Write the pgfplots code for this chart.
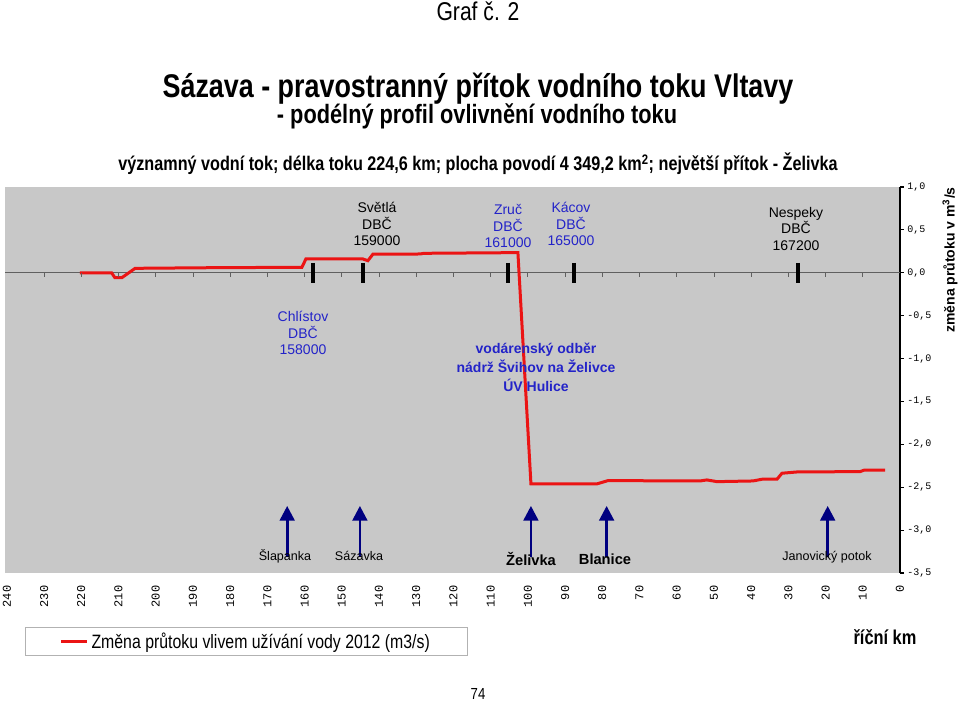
\documentclass[border=0pt]{standalone}
\usepackage{fontspec}
\setmainfont{Liberation Sans}
\newfontfamily\narrow[FakeStretch=0.82]{Liberation Sans}
\newfontfamily\mono{Liberation Mono}
\usepackage{pgfplots}
\pgfplotsset{compat=1.18}
\usetikzlibrary{arrows.meta}
\definecolor{bggray}{RGB}{200,200,200}
\definecolor{lblue}{RGB}{35,35,200}
\definecolor{navyc}{RGB}{0,0,128}
\definecolor{lred}{RGB}{235,20,20}
\begin{document}
\begin{tikzpicture}
\begin{axis}[
  scale only axis, width=671.25pt, height=289.5pt,
  x dir=reverse, xmin=0, xmax=240.5, ymin=-3.5, ymax=1,
  axis x line*=bottom, axis y line*=right,
  x axis line style={draw=none},
  xtick={0,10,...,240},
  major x tick style={draw=none},
  /pgf/number format/assume math mode=true,
  x tick label style={rotate=90, anchor=east, font=\mono\fontsize{9}{9}\selectfont},
  xticklabel shift=3pt,
  ytick={-3.5,-3,-2.5,-2,-1.5,-1,-0.5,0,0.5,1},
  yticklabels={{-3,5},{-3,0},{-2,5},{-2,0},{-1,5},{-1,0},{-0,5},{0,0},{0,5},{1,0}},
  y tick label style={anchor=west, font=\mono\fontsize{7.5}{8}\selectfont},
  yticklabel shift=-1pt,
  tick align=outside, major tick length=3pt,
  y axis line style={black, line width=0.8pt},
  major y tick style={black, line width=0.8pt},
  axis background/.style={fill=bggray},
  legend style={at={(0.0223,-0.1399)}, anchor=north west, draw=gray!60, inner xsep=26pt, inner ysep=2pt,
    font=\narrow\fontsize{14.5}{14.5}\selectfont, legend cell align=left},
  legend image code/.code={\draw[#1] (0pt,0pt) -- (19.5pt,0pt);},
]
% zero line
\addplot[forget plot, gray!75!black, line width=0.7pt] coordinates {(0,0) (240.5,0)};
\addplot[forget plot, only marks, mark=|, mark size=1.5pt, mark options={gray!75!black, line width=0.6pt}]
  coordinates {(10,-0.023) (20,-0.023) (30,-0.023) (40,-0.023) (50,-0.023) (60,-0.023) (70,-0.023) (80,-0.023)
  (90,-0.023) (100,-0.023) (110,-0.023) (120,-0.023) (130,-0.023) (140,-0.023) (150,-0.023) (160,-0.023)
  (170,-0.023) (180,-0.023) (190,-0.023) (200,-0.023) (210,-0.023) (220,-0.023) (230,-0.023)};
% stations
\addplot[forget plot, only marks, mark=|, mark size=7.5pt, mark options={black, line width=3pt}]
  coordinates {(157.68,0) (144.24,0) (105.43,0) (87.53,0) (27.33,0)};
% arrows (tributaries)
\addplot[forget plot, navyc, line width=2pt, -{Triangle[width=11pt,length=11pt]}] coordinates {(164.67,-3.312) (164.67,-2.718)};
\addplot[forget plot, navyc, line width=2pt, -{Triangle[width=11pt,length=11pt]}] coordinates {(145.13,-3.312) (145.13,-2.718)};
\addplot[forget plot, navyc, line width=2pt, -{Triangle[width=11pt,length=11pt]}] coordinates {(99.17,-3.312) (99.17,-2.718)};
\addplot[forget plot, navyc, line width=2pt, -{Triangle[width=11pt,length=11pt]}] coordinates {(78.83,-3.312) (78.83,-2.718)};
\addplot[forget plot, navyc, line width=2pt, -{Triangle[width=11pt,length=11pt]}] coordinates {(19.43,-3.312) (19.43,-2.718)};
% main series
\addplot[lred, line width=2.25pt] coordinates {
(220.38,0.0) (211.86,0.0) (210.97,-0.057) (209.09,-0.057) (205.52,0.052) (185.34,0.059)
(161.26,0.064) (160.72,0.064) (159.64,0.161) (144.32,0.161) (142.98,0.141) (141.63,0.217)
(129.0,0.219) (127.9,0.227) (105.6,0.234) (102.67,0.234) (99.17,-2.461) (81.43,-2.461)
(78.48,-2.423) (53.75,-2.427) (51.87,-2.415) (49.18,-2.435) (39.51,-2.427) (37.09,-2.407)
(33.06,-2.407) (31.71,-2.337) (27.68,-2.322) (10.75,-2.318) (9.68,-2.302) (4.03,-2.302)};
\addlegendentry{Změna průtoku vlivem užívání vody 2012 (m3/s)}
\coordinate (SW) at (axis cs:240.5,-3.5);
\end{axis}
\begin{scope}[shift={(SW)}, x=0.75pt, y=-0.75pt, shift={(-5,-573)}]
% titles
\node[anchor=base, font=\narrow\fontsize{19.3}{23}\selectfont] at (478,21) {Graf č. 2};
\node[anchor=base, font=\narrow\bfseries\fontsize{24.6}{29}\selectfont] at (478,98) {Sázava - pravostranný přítok vodního toku Vltavy};
\node[anchor=base, font=\narrow\bfseries\fontsize{19.9}{24}\selectfont] at (477,124) {- podélný profil ovlivnění vodního toku};
\node[anchor=base, font=\narrow\bfseries\fontsize{14.8}{17}\selectfont] at (478,171) {významný vodní tok; délka toku 224,6 km; plocha povodí 4 349,2 km\textsuperscript{2}; největší přítok - Želivka};
% station labels
\node[align=center, font=\fontsize{10.5}{12.4}\selectfont, text=black] at (377,224) {Světlá\\DBČ\\159000};
\node[align=center, font=\fontsize{10.5}{12.4}\selectfont, text=lblue] at (508,226) {Zruč\\DBČ\\161000};
\node[align=center, font=\fontsize{10.5}{12.4}\selectfont, text=lblue] at (571,224) {Kácov\\DBČ\\165000};
\node[align=center, font=\fontsize{10.5}{12.4}\selectfont, text=black] at (796,229) {Nespeky\\DBČ\\167200};
\node[align=center, font=\fontsize{10.5}{12.4}\selectfont, text=lblue] at (303,333) {Chlístov\\DBČ\\158000};
\node[align=center, font=\bfseries\fontsize{10.5}{14.25}\selectfont, text=lblue] at (536,367) {vodárenský odběr\\nádrž Švihov na Želivce\\ÚV Hulice};
% tributary labels
\node[font=\fontsize{9.4}{11}\selectfont] at (285,556) {Šlapanka};
\node[font=\fontsize{9.4}{11}\selectfont] at (359,556) {Sázavka};
\node[font=\bfseries\fontsize{11}{13}\selectfont] at (531,559) {Želivka};
\node[font=\bfseries\fontsize{11}{13}\selectfont] at (605,559) {Blanice};
\node[font=\fontsize{9.4}{11}\selectfont] at (827,557) {Janovický potok};
% axis label etc
\node[rotate=90, font=\bfseries\fontsize{10.5}{12}\selectfont] at (950,260) {změna průtoku v m\textsuperscript{3}/s};
\node[font=\narrow\bfseries\fontsize{15}{18}\selectfont] at (885,637) {říční km};
\node[font=\narrow\fontsize{12}{14}\selectfont] at (478,694) {74};
\pgfresetboundingbox
\useasboundingbox (0,0) rectangle (960,703);
\end{scope}
\end{tikzpicture}
\end{document}
